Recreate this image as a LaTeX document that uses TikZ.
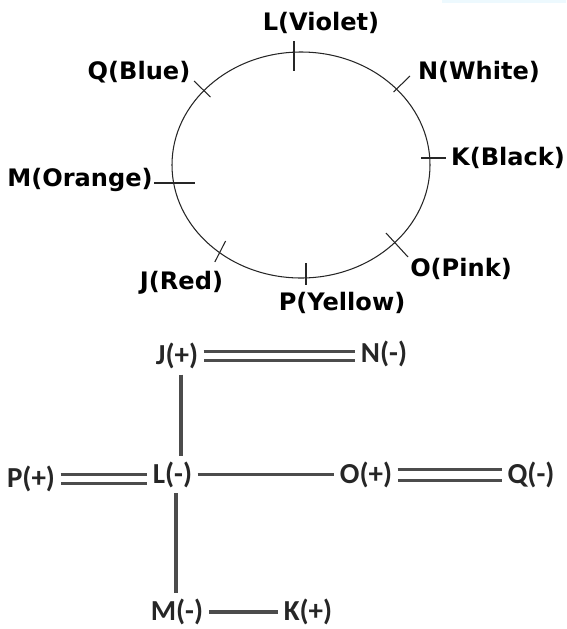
\documentclass[tikz,border=0pt]{standalone}
\usepackage{fontspec}
\setmainfont{DejaVu Sans}
\newfontfamily\calibfont{Carlito}
\usepackage{tikz}
\tikzset{
    seat/.style={font=\bfseries\fontsize{13.7}{16}\selectfont, inner sep=1pt},
    charge/.style={font=\calibfont\bfseries\fontsize{16.5}{19}\selectfont, text=black!85, inner sep=3pt},
    tick/.style={line width=0.6pt, black!85},
    bond/.style={line width=1.8pt, black!70},
    dbond/.style={bond, double=white, double distance=3.5pt}
}

\begin{document}
\begin{tikzpicture}[x=0.02cm, y=-0.02cm]
    \useasboundingbox (0,0) rectangle (566,629);
    \fill[cyan!7] (442,0) rectangle (566,2.5);

    % Circle
    \draw[tick] (301,165) ellipse [x radius=129, y radius=113];
    \foreach \xa/\ya/\xb/\yb in {294/41/294/71, 194/81/210.5/97, 410/76/393.5/92, 421/158/446/158,
                                 154/183/195/183, 386/233/408/257, 306/263/306/285, 225.6/241/214.8/262}
        \draw[tick] (\xa,\ya) -- (\xb,\yb);

    % Names
    \node[seat] (l) at (321,23) {L(Violet)};
    \node[seat] (q) at (139,72.5) {Q(Blue)};
    \node[seat] (n) at (479,72) {N(White)};
    \node[seat] (k) at (508,158) {K(Black)};
    \node[seat] (m) at (80,180) {M(Orange)};
    \node[seat] (o) at (461,269) {O(Pink)};
    \node[seat] (j) at (181.5,283) {J(Red)};
    \node[seat] (p) at (342,302.5) {P(Yellow)};

    % Charges
    \node[charge] (jp) at (177,356) {J(+)};
    \node[charge] (nm) at (384,354) {N(-)};
    \node[charge] (pp) at (31,479) {P(+)};
    \node[charge] (lm) at (172.5,474.5) {L(-)};
    \node[charge] (op) at (366,475) {O(+)};
    \node[charge] (qm) at (531,475) {Q(-)};
    \node[charge] (mm) at (177,612) {M(-)};
    \node[charge] (kp) at (308,612) {K(+)};

    % Bonds
    \draw[dbond] (jp.east) -- (jp.east -| nm.west);
    \draw[dbond] (pp.east) -- (pp.east -| lm.west);
    \draw[dbond, double distance=4.2pt] (op.east) -- (op.east -| qm.west);
    \draw[bond] (lm.east) -- (lm.east -| op.west);
    \draw[bond] (mm.east) -- (mm.east -| kp.west);
    \draw[bond] ([xshift=2.3pt]jp.south) -- ([xshift=2.3pt]jp.south |- lm.north);
    \draw[bond] ([xshift=2pt]lm.south) -- ([xshift=2pt]lm.south |- mm.north);

\end{tikzpicture}
\end{document}
